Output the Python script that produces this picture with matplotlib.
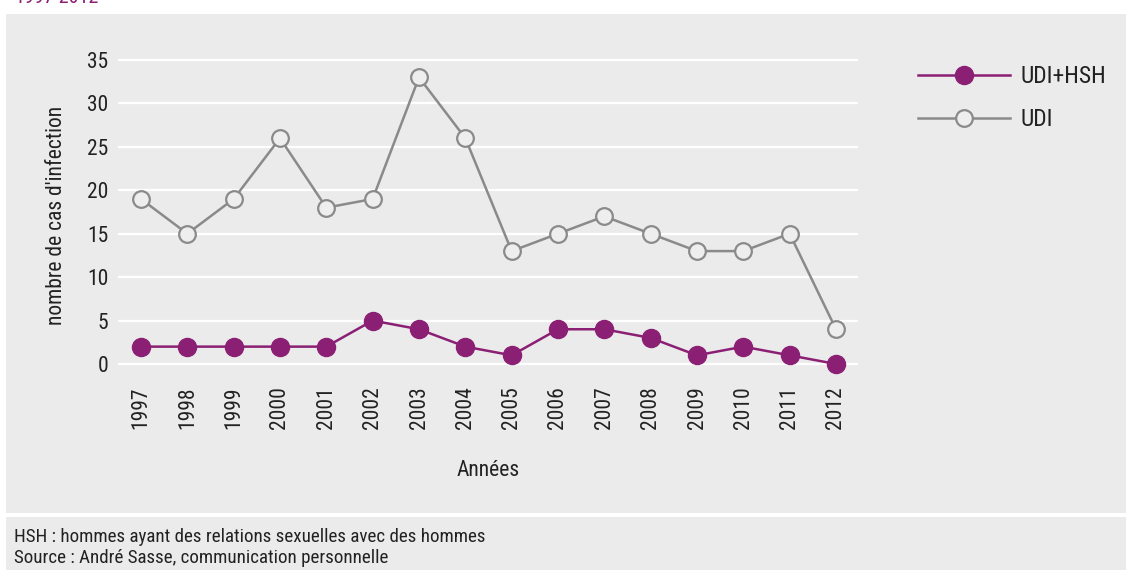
import matplotlib
matplotlib.use("Agg")
import matplotlib.pyplot as plt
from matplotlib.patches import Rectangle

years = list(range(1997, 2013))
udi_hsh = [2, 2, 2, 2, 2, 5, 4, 2, 1, 4, 4, 3, 1, 2, 1, 0]
udi = [19, 15, 19, 26, 18, 19, 33, 26, 13, 15, 17, 15, 13, 13, 15, 4]
yticks = [0, 5, 10, 15, 20, 25, 30, 35]

plt.rcParams['font.family'] = ['Roboto Condensed', 'DejaVu Sans']

W, H = 1126, 570
fig = plt.figure(figsize=(W / 100, H / 100), dpi=100)
fig.patch.set_facecolor('white')

panel = '#ebebeb'
fig.patches.append(Rectangle((6 / W, 1 - 513 / H), 1 - 6 / W, (513 - 14) / H,
                             transform=fig.transFigure, facecolor=panel, edgecolor='none', zorder=-5))
fig.patches.append(Rectangle((6 / W, 0), 1 - 6 / W, (570 - 517) / H,
                             transform=fig.transFigure, facecolor=panel, edgecolor='none', zorder=-5))

purple = '#8b1f74'
grey = '#8a8a8a'
txt = '#222222'

ax_l, ax_r, ax_t, ax_b = 118, 858, 55, 375
ax = fig.add_axes([ax_l / W, 1 - ax_b / H, (ax_r - ax_l) / W, (ax_b - ax_t) / H])
ax.set_facecolor(panel)
ppu = (364 - 60) / 35
ax.set_ylim(-(ax_b - 364) / ppu, 35 + (60 - ax_t) / ppu)
x0, x1 = 141, 836
step = (x1 - x0) / 15
ax.set_xlim(1997 - (x0 - ax_l) / step, 2012 + (ax_r - x1) / step)

ax.set_yticks(yticks)
ax.set_xticks(years)
ax.set_xticklabels([str(y) for y in years], rotation=90, fontsize=15.5, color=txt)
ax.set_yticklabels([str(v) for v in yticks], fontsize=15.5, color=txt)
ax.tick_params(axis='x', length=0, pad=8)
ax.tick_params(axis='y', length=0, pad=7)
ax.grid(axis='y', color='white', linewidth=1.6)
ax.set_axisbelow(True)
for s in ax.spines.values():
    s.set_visible(False)

l1, = ax.plot(years, udi_hsh, color=purple, linewidth=1.8, marker='o', markersize=13,
              markerfacecolor=purple, markeredgecolor=purple, label='UDI+HSH', clip_on=False, zorder=3)
l2, = ax.plot(years, udi, color=grey, linewidth=1.8, marker='o', markersize=12,
              markerfacecolor='#eeeeee', markeredgecolor=grey, markeredgewidth=1.6,
              label='UDI', clip_on=False, zorder=3)

ax.set_ylabel("nombre de cas d'infection", fontsize=15.5, color=txt, labelpad=14)
ax.set_xlabel("Années", fontsize=15.5, color=txt, labelpad=22)

leg = fig.legend(handles=[l1, l2], loc='upper left', bbox_to_anchor=(897 / W, 1 - 44 / H),
                 frameon=False, fontsize=17, handlelength=3.9, handletextpad=0.45,
                 labelspacing=0.85, labelcolor=txt)

fig.text(14 / W, 1 - 537 / H, "HSH : hommes ayant des relations sexuelles avec des hommes",
         fontsize=13.7, color=txt, va='center')
fig.text(14 / W, 1 - 558 / H, "Source : André Sasse, communication personnelle",
         fontsize=13.7, color=txt, va='center')
fig.text(14 / W, 1 - 3 / H, "1997-2012", fontsize=14.5, color=purple, va='baseline')

fig.savefig('out.png', dpi=100, facecolor='white')
